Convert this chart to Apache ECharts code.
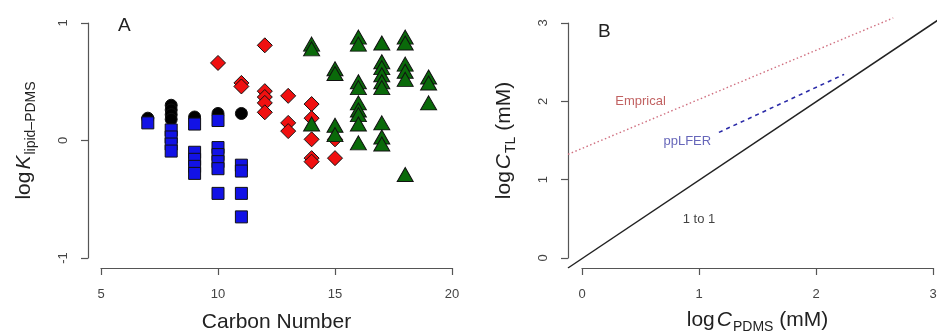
<!DOCTYPE html>
<html>
<head>
<meta charset="utf-8">
<script src="https://cdn.jsdelivr.net/npm/echarts@6/dist/echarts.min.js"></script>
<style>
  html, body { margin: 0; padding: 0; background: #fff; }
  #chart { width: 937px; height: 335px; }
</style>
</head>
<body>
<div id="chart"></div>
<script>
// ---- Panel A: log K(lipid–PDMS) against carbon number ----
const circleX = [7, 8, 8, 8, 8, 9, 10, 11];
const circleY = [0.19, 0.30, 0.26, 0.22, 0.18, 0.20, 0.23, 0.23];

const squareX = [7, 8, 8, 8, 8, 9, 9, 9, 9, 9, 10, 10, 10, 10, 10, 10, 11, 11, 11, 11];
const squareY = [0.15, 0.09, 0.03, -0.03, -0.09, 0.14, -0.10, -0.16, -0.22, -0.28,
                 0.17, -0.06, -0.12, -0.18, -0.24, -0.45, -0.21, -0.26, -0.45, -0.65];

const diamondX = [10, 11, 11, 12, 12, 12, 12, 12, 13, 13, 13, 14, 14, 14, 14, 14, 15, 15];
const diamondY = [0.66, 0.49, 0.46, 0.81, 0.42, 0.37, 0.32, 0.24, 0.38, 0.15, 0.08,
                  0.31, 0.19, 0.01, -0.15, -0.18, 0.01, -0.15];

const triangleX = [14, 14, 14, 15, 15, 15, 15,
                   16, 16, 16, 16, 16, 16, 16, 16, 16, 16,
                   17, 17, 17, 17, 17, 17, 17, 17, 17,
                   18, 18, 18, 18, 18, 18, 19, 19, 19];
const triangleY = [0.82, 0.78, 0.14, 0.61, 0.57, 0.13, 0.05,
                   1.03, 0.88, 0.82, 0.50, 0.45, 0.32, 0.26, 0.22, 0.14, -0.02,
                   0.83, 0.67, 0.62, 0.56, 0.50, 0.45, 0.15, 0.03, -0.03,
                   0.88, 0.83, 0.65, 0.59, 0.52, -0.29, 0.54, 0.49, 0.32];

const ticksAx = [5, 10, 15, 20];
const ticksAy = [-1, 0, 1];

// ---- Panel B: predicted tissue concentration against PDMS concentration ----
const oneToOneX = [-0.12, 3.12];
const oneToOneY = [-0.12, 3.12];
const empiricalX = [-0.12, 2.66];
const empiricalY = [1.33, 3.07];
const pplferX = [1.17, 2.24];
const pplferY = [1.61, 2.35];
const noteText = ['Emprical', 'ppLFER', '1 to 1'];
const noteX = [0.5, 0.9, 1.0];
const noteY = [2.0, 1.5, 0.5];

const ticksBx = [0, 1, 2, 3];
const ticksBy = [0, 1, 2, 3];
// plotting region of panel B: ticks padded by 4%, cut at the right page edge
const plotXB = [-0.12, 3.034];
const plotYB = [-0.12, 3.12];

const FONT = '"Liberation Sans", Arial, Helvetica, sans-serif';
const zip = (xs, ys) => xs.map((x, i) => [x, ys[i]]);

function axisBase(ticks, extra) {
  return Object.assign({
    type: 'value',
    min: ticks[0],
    max: ticks[ticks.length - 1],
    interval: ticks[1] - ticks[0],
    axisLine: { show: true, onZero: false, lineStyle: { color: '#555', width: 1.2 } },
    axisTick: { show: true, inside: false, length: 7, lineStyle: { color: '#555', width: 1.2 } },
    splitLine: { show: false },
    nameLocation: 'middle'
  }, extra);
}

function hiddenAxis(range, gridIndex) {
  return {
    type: 'value', gridIndex: gridIndex, min: range[0], max: range[1], show: false,
    axisLine: { show: false, onZero: false }, splitLine: { show: false }
  };
}

const xLabel = { color: '#444', fontSize: 13, fontFamily: FONT, margin: 20 };
const yLabel = { color: '#444', fontSize: 13, fontFamily: FONT, margin: 18, rotate: 90 };

// rich-text styles for axis titles with subscripts
const titleRich = {
  a: { fontSize: 21, fontFamily: FONT, color: '#222', verticalAlign: 'top', lineHeight: 24 },
  i: { fontSize: 21, fontFamily: FONT, color: '#222', fontStyle: 'italic', verticalAlign: 'top', lineHeight: 24, padding: [0, 0, 0, 2] },
  s: { fontSize: 14, fontFamily: FONT, color: '#222', verticalAlign: 'bottom', lineHeight: 16, padding: [12, 0, 0, 1] }
};

const markerBorder = { borderColor: '#111', borderWidth: 1, opacity: 1 };

const noteColors = ['#b23a3a', '#4040a8', '#111'];

const option = {
  animation: false,
  backgroundColor: '#fff',
  grid: [
    { left: 101, top: 23, width: 351, height: 235, outerBoundsMode: 'none' },
    { left: 582, top: 23, width: 351, height: 235, outerBoundsMode: 'none' },
    { left: 568, top: 14, width: 369, height: 254, outerBoundsMode: 'none' }
  ],
  xAxis: [
    axisBase(ticksAx, {
      gridIndex: 0, offset: 10, axisLabel: xLabel,
      name: '{a|Carbon Number}', nameGap: 44,
      nameTextStyle: { rich: titleRich }
    }),
    axisBase(ticksBx, {
      gridIndex: 1, offset: 10, axisLabel: xLabel,
      name: '{a|log}{i|C}{s|PDMS}{a| (mM)}', nameGap: 42,
      nameTextStyle: { rich: titleRich }
    }),
    hiddenAxis(plotXB, 2)
  ],
  yAxis: [
    axisBase(ticksAy, {
      gridIndex: 0, offset: 13, axisLabel: yLabel,
      name: '{a|log}{i|K}{s|lipid–PDMS}', nameGap: 50, nameRotate: 90,
      nameTextStyle: { rich: titleRich }
    }),
    axisBase(ticksBy, {
      gridIndex: 1, offset: 14, axisLabel: yLabel,
      name: '{a|log}{i|C}{s|TL}{a| (mM)}', nameGap: 50, nameRotate: 90,
      nameTextStyle: { rich: titleRich }
    }),
    hiddenAxis(plotYB, 2)
  ],
  series: [
    {
      type: 'scatter', xAxisIndex: 0, yAxisIndex: 0,
      symbol: 'circle', symbolSize: 12,
      itemStyle: Object.assign({ color: '#000' }, markerBorder),
      data: zip(circleX, circleY)
    },
    {
      type: 'scatter', xAxisIndex: 0, yAxisIndex: 0,
      symbol: 'rect', symbolSize: 12,
      itemStyle: Object.assign({ color: '#1212e6' }, markerBorder),
      data: zip(squareX, squareY)
    },
    {
      type: 'scatter', xAxisIndex: 0, yAxisIndex: 0,
      symbol: 'diamond', symbolSize: 15,
      itemStyle: Object.assign({ color: '#f01010' }, markerBorder),
      data: zip(diamondX, diamondY)
    },
    {
      type: 'scatter', xAxisIndex: 0, yAxisIndex: 0,
      symbol: 'triangle', symbolSize: [16, 14],
      itemStyle: Object.assign({ color: '#0a6a0a' }, markerBorder),
      data: zip(triangleX, triangleY)
    },
    {
      type: 'line', xAxisIndex: 2, yAxisIndex: 2,
      showSymbol: false, symbol: 'none',
      lineStyle: { color: '#d07080', width: 1.4, type: [1.5, 2.5] },
      data: zip(empiricalX, empiricalY)
    },
    {
      type: 'line', xAxisIndex: 2, yAxisIndex: 2,
      showSymbol: false, symbol: 'none',
      lineStyle: { color: '#2a2aa8', width: 1.6, type: [4, 4] },
      data: zip(pplferX, pplferY)
    },
    {
      type: 'line', xAxisIndex: 2, yAxisIndex: 2,
      showSymbol: false, symbol: 'none',
      lineStyle: { color: '#222', width: 1.5 },
      data: zip(oneToOneX, oneToOneY)
    },
    {
      type: 'scatter', xAxisIndex: 2, yAxisIndex: 2,
      symbolSize: 0, silent: true,
      data: noteText.map((t, i) => ({
        value: [noteX[i], noteY[i]],
        name: t,
        label: {
          show: true, position: 'inside', formatter: '{b}',
          color: noteColors[i], fontSize: 13, fontFamily: FONT
        }
      }))
    }
  ],
  graphic: [
    { type: 'text', left: 118, top: 16, style: { text: 'A', fontSize: 19, fontFamily: FONT, fill: '#222' } },
    { type: 'text', left: 598, top: 22, style: { text: 'B', fontSize: 19, fontFamily: FONT, fill: '#222' } }
  ]
};

const chart = echarts.init(document.getElementById('chart'), null, { renderer: 'canvas' });
chart.setOption(option);
</script>
</body>
</html>
